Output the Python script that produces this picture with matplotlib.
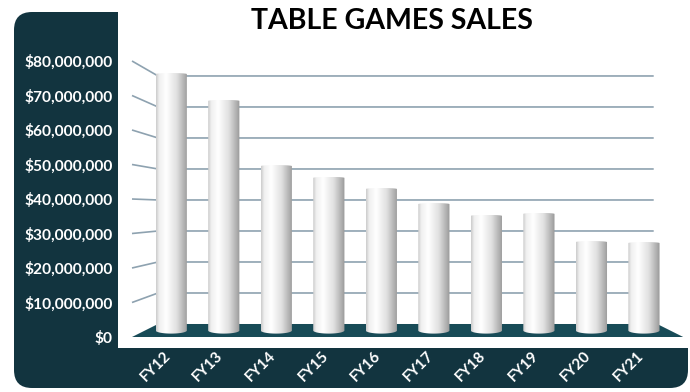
import numpy as np
import matplotlib
matplotlib.use('Agg')
import matplotlib.pyplot as plt
from matplotlib.patches import Polygon, FancyBboxPatch, PathPatch
from matplotlib.path import Path
from matplotlib.transforms import IdentityTransform

# table games sales per fiscal year, in dollars
years = ['FY12', 'FY13', 'FY14', 'FY15', 'FY16', 'FY17', 'FY18', 'FY19', 'FY20', 'FY21']
sales = np.array([78.3, 70.1, 50.2, 46.6, 43.2, 38.6, 35.0, 35.6, 27.0, 26.7]) * 1e6
ticks = np.arange(0, 80_000_001, 10_000_000)

plt.rcParams['font.family'] = ['Lato', 'DejaVu Sans']
plt.rcParams['font.weight'] = 'bold'

PANEL = '#12343f'
FLOOR = '#184b57'
GRID = '#8ea2b0'


def proj(x, v, t):
    # simple perspective for the 3d box: t=0 front plane, t=1 back wall
    s = 1.06 - 0.10 * t
    return 4.5 + (x - 4.5) * s, v * (1 - 0.1014 * t) + 3.77e6 * t


fig = plt.figure(figsize=(6.9, 3.92), dpi=100)

# dark L-shaped frame behind the tick labels
panel = FancyBboxPatch((14, 4), 674, 376, boxstyle='round,pad=0,rounding_size=18',
                       transform=IdentityTransform(), fc=PANEL, ec='none', zorder=0)
fig.add_artist(panel)

ax = fig.add_axes([118 / 690, 44 / 392, 572 / 690, 336 / 392])
ax.set_facecolor('white')
for sp in ax.spines.values():
    sp.set_visible(False)

# side wall + back wall gridlines
for v in ticks[1:]:
    xf, yf = proj(-0.5, v, 0)
    xb, yb = proj(-0.5, v, 1)
    xr, _ = proj(9.43, v, 1)
    ax.plot([xf, xb, xr], [yf, yb, yb], color=GRID, lw=1.2, zorder=1, solid_capstyle='butt')

# floor
floor = [proj(-0.5, 0, 0), proj(9.5, 0, 0), proj(9.5, 0, 1), proj(-0.5, 0, 1)]
ax.add_patch(Polygon(floor, closed=True, fc=FLOOR, ec='none', zorder=2))

# shading across a cylinder
stops = [0, 0.10, 0.32, 0.65, 0.88, 1.0]
shade = [0.80, 0.94, 1.0, 0.88, 0.70, 0.60]
g = np.interp(np.linspace(0, 1, 80), stops, shade)
grad = np.dstack([g, g, g])

r = 0.30
eb = 0.9e6
et = 0.3e6
centers = []
for i, v in enumerate(sales):
    xc, base = proj(i, 0, 0.5)
    _, top = proj(i, v, 0.5)
    centers.append(xc)
    a = np.linspace(np.pi, 2 * np.pi, 30)
    bottom = np.column_stack([xc + r * np.cos(a), base + eb * np.sin(a)])
    a2 = np.linspace(0, np.pi, 30)
    cap = np.column_stack([xc + r * np.cos(a2), top + et * np.sin(a2)])
    verts = np.vstack([bottom, cap, bottom[:1]])
    codes = [Path.MOVETO] + [Path.LINETO] * (len(verts) - 2) + [Path.CLOSEPOLY]
    pp = PathPatch(Path(verts, codes), fc='none', ec='none', zorder=3)
    ax.add_patch(pp)
    im = ax.imshow(grad, extent=[xc - r, xc + r, base - eb, top + et], aspect='auto',
                   interpolation='bilinear', zorder=3)
    im.set_clip_path(pp)

ax.set_xlim((118 - 173.6) / 52, (690 - 173.6) / 52)
ax.set_ylim((337 - 348) / 3.45e-6, (337 - 12) / 3.45e-6)

ax.set_yticks(ticks, labels=[f'${v:,.0f}' for v in ticks])
ax.tick_params(axis='y', length=0, pad=4, labelcolor='white', labelsize=11.2)
ax.set_xticks(centers, labels=years)
ax.tick_params(axis='x', length=0, pad=6, labelcolor='white', labelsize=11)
for lbl in ax.get_xticklabels():
    lbl.set_rotation(45)
    lbl.set_ha('right')
    lbl.set_va('baseline')
    lbl.set_rotation_mode('anchor')

fig.text(392 / 690, 1 - 29 / 392, 'TABLE GAMES SALES', ha='center', va='baseline',
         fontsize=20.5, weight='bold', color='black')

fig.savefig('out.png', dpi=100, facecolor='white')
